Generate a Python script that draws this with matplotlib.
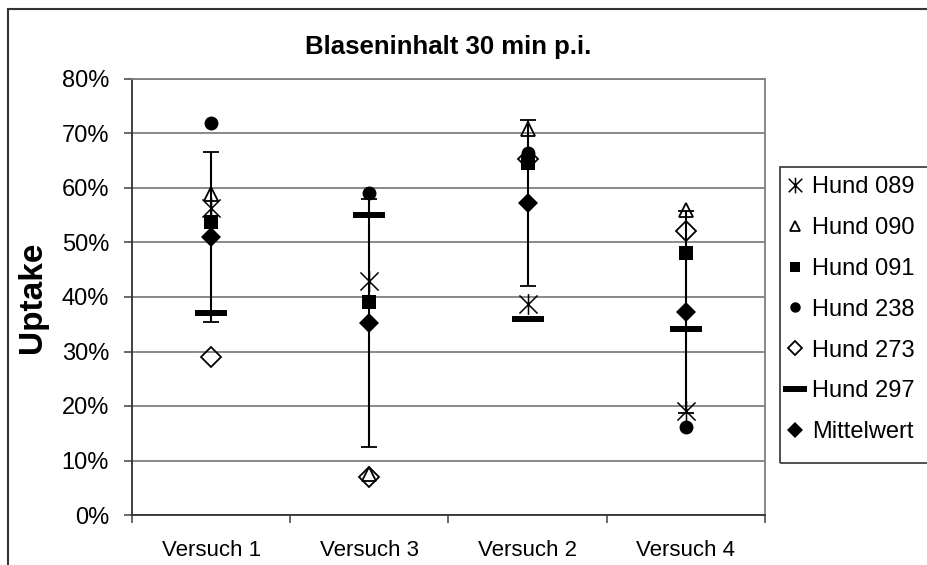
import matplotlib
matplotlib.use("Agg")
import matplotlib.pyplot as plt
import numpy as np
from matplotlib.path import Path
from matplotlib.patches import Rectangle
from matplotlib.ticker import FuncFormatter, FixedLocator

plt.rcParams['font.family'] = ['Liberation Sans', 'DejaVu Sans']

categories = ["Versuch 1", "Versuch 3", "Versuch 2", "Versuch 4"]
hund_089 = [56.3, 42.9, 38.7, 19.0]
hund_090 = [58.9, 7.6, 70.8, 55.9]
hund_091 = [53.8, 39.0, 64.5, 48.1]
hund_238 = [72.0, 59.0, 66.4, 16.2]
hund_273 = [29.0, 7.0, 65.3, 52.1]
hund_297 = [37.1, 55.0, 36.0, 34.2]
mittelwert = [51.0, 35.2, 57.2, 37.3]
std_dev = [15.6, 22.7, 15.2, 18.5]
y_ticks = [0, 10, 20, 30, 40, 50, 60, 70, 80]

W, H = 928, 565
fig = plt.figure(figsize=(W / 100, H / 100), dpi=100)
ax = fig.add_axes([132 / W, 1 - 515 / H, (765 - 132) / W, (515 - 79) / H])

x = np.arange(len(categories))

star = Path([(-1, -1), (1, 1), (-1, 1), (1, -1), (0, -1.15), (0, 1.15)],
            [Path.MOVETO, Path.LINETO, Path.MOVETO, Path.LINETO, Path.MOVETO, Path.LINETO])

kw = dict(linestyle='none', color='black')
l1, = ax.plot(x, hund_089, marker=star, markersize=15, markeredgewidth=1.1,
              markerfacecolor='none', markeredgecolor='black', zorder=3, **kw)
l2, = ax.plot(x, hund_090, marker='^', markersize=9.5, markeredgewidth=1.3,
              markerfacecolor='none', markeredgecolor='black', zorder=3, **kw)
l3, = ax.plot(x, hund_091, marker='s', markersize=9.5, markeredgewidth=0,
              markerfacecolor='black', zorder=3, **kw)
l4, = ax.plot(x, hund_238, marker='o', markersize=10, markeredgewidth=0,
              markerfacecolor='black', zorder=3, **kw)
l5, = ax.plot(x, hund_273, marker='D', markersize=10, markeredgewidth=1.3,
              markerfacecolor='none', markeredgecolor='black', zorder=3, **kw)
l6, = ax.plot(x, hund_297, marker='_', markersize=23, markeredgewidth=4.3,
              markeredgecolor='black', zorder=3, **kw)
ax.errorbar(x, mittelwert, yerr=std_dev, fmt='none', ecolor='black',
            elinewidth=1.5, capsize=5.8, capthick=1.3, zorder=4)
l7, = ax.plot(x, mittelwert, marker='D', markersize=10.5, markeredgewidth=0,
              markerfacecolor='black', zorder=5, **kw)

ax.set_xlim(-0.5, len(categories) - 0.5)
ax.set_ylim(0, 80)
ax.yaxis.set_major_locator(FixedLocator(y_ticks))
ax.yaxis.set_major_formatter(FuncFormatter(lambda v, p: f"{v:.0f}%"))
ax.yaxis.grid(True, color='#808080', linewidth=1.3)
ax.set_axisbelow(True)

ax.set_xticks(x)
ax.set_xticklabels(categories, fontsize=16)
ax.set_xticks(np.arange(-0.5, len(categories)), minor=True)
ax.tick_params(axis='x', which='major', length=0, pad=18)
ax.tick_params(axis='x', which='minor', length=6, width=1.1, color='#404040', direction='out')
ax.tick_params(axis='y', which='major', length=6, width=1.1, color='#404040',
               labelsize=17, pad=10.5)

for s in ['left', 'bottom']:
    ax.spines[s].set_color('#333333')
    ax.spines[s].set_linewidth(1.3)
for s in ['top', 'right']:
    ax.spines[s].set_color('#808080')
    ax.spines[s].set_linewidth(1.3)

fig.text(33 / W, 1 - 297 / H, "Uptake", rotation=90, fontsize=24, fontweight='bold',
         ha='center', va='center')
fig.text(448 / W, 1 - 47 / H, "Blaseninhalt 30 min p.i.", fontsize=18.5,
         fontweight='bold', ha='center', va='center')

# outer chart border
fig.patches.append(Rectangle((8 / W, -0.05), 1.2, 1 - 9 / H + 0.05, transform=fig.transFigure,
                             fill=False, edgecolor='#333333', linewidth=1.5))
# legend border
fig.patches.append(Rectangle((780 / W, 1 - 463 / H), (940 - 780) / W, (463 - 167) / H,
                             transform=fig.transFigure, fill=False,
                             edgecolor='#333333', linewidth=1.2))

labels = ["Hund 089", "Hund 090", "Hund 091", "Hund 238", "Hund 273", "Hund 297", "Mittelwert"]
leg = fig.legend([l1, l2, l3, l4, l5, l6, l7], labels, loc='upper left',
                 bbox_to_anchor=(784 / W, 1 - 176 / H), frameon=False, fontsize=17,
                 handlelength=0.9, handletextpad=0.3, labelspacing=0.8,
                 markerscale=0.75, borderaxespad=0, borderpad=0)

fig.savefig("out.png", dpi=100)
